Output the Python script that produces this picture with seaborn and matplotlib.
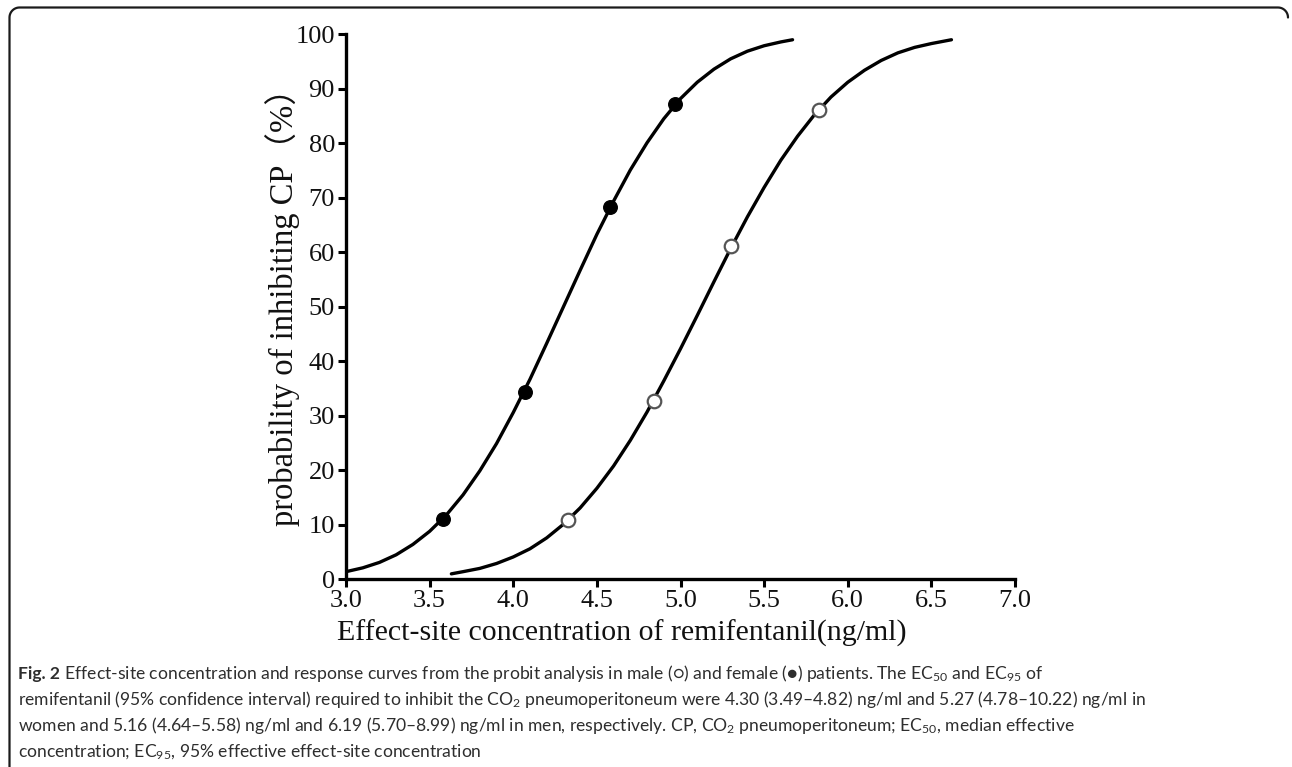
import numpy as np
import pandas as pd
import matplotlib.pyplot as plt
import seaborn as sns
from matplotlib.lines import Line2D

female_conc = [3.58, 4.07, 4.58, 4.97]
female_prob = [11.1, 34.4, 68.4, 87.2]
male_conc = [4.33, 4.84, 5.30, 5.83]
male_prob = [10.9, 32.8, 61.2, 86.2]

# fitted probit curves
female_curve_x = [3.0, 3.1, 3.2, 3.3, 3.4, 3.5, 3.6, 3.7, 3.8, 3.9, 4.0, 4.1, 4.2, 4.3,
                  4.4, 4.5, 4.6, 4.7, 4.8, 4.9, 5.0, 5.1, 5.2, 5.3, 5.4, 5.5, 5.6, 5.67]
female_curve_y = [1.4, 2.1, 3.1, 4.5, 6.4, 8.8, 11.8, 15.5, 19.9, 24.9, 30.6, 36.7, 43.3, 50.0,
                  56.7, 63.3, 69.4, 75.1, 80.1, 84.5, 88.2, 91.2, 93.6, 95.5, 96.9, 97.9, 98.6, 99.0]
male_curve_x = [3.63, 3.7, 3.8, 3.9, 4.0, 4.1, 4.2, 4.3, 4.4, 4.5, 4.6, 4.7, 4.8, 4.9, 5.0, 5.1,
                5.2, 5.3, 5.4, 5.5, 5.6, 5.7, 5.8, 5.9, 6.0, 6.1, 6.2, 6.3, 6.4, 6.5, 6.62]
male_curve_y = [1.0, 1.4, 2.0, 2.9, 4.1, 5.6, 7.6, 10.1, 13.1, 16.7, 20.8, 25.5, 30.7, 36.4, 42.3, 48.4,
                54.6, 60.7, 66.5, 71.9, 76.9, 81.3, 85.2, 88.5, 91.2, 93.4, 95.2, 96.6, 97.6, 98.3, 99.0]

x_ticks = [3.0, 3.5, 4.0, 4.5, 5.0, 5.5, 6.0, 6.5, 7.0]
y_ticks = [0, 10, 20, 30, 40, 50, 60, 70, 80, 90, 100]

caption_head = "Fig. 2"
caption_lines = [
    r" Effect-site concentration and response curves from the probit analysis in male (○) and female (●) patients. The EC$_{50}$ and EC$_{95}$ of",
    r"remifentanil (95% confidence interval) required to inhibit the CO$_{2}$ pneumoperitoneum were 4.30 (3.49–4.82) ng/ml and 5.27 (4.78–10.22) ng/ml in",
    r"women and 5.16 (4.64–5.58) ng/ml and 6.19 (5.70–8.99) ng/ml in men, respectively. CP, CO$_{2}$ pneumoperitoneum; EC$_{50}$, median effective",
    r"concentration; EC$_{95}$, 95% effective effect-site concentration",
]

sns.set_theme(style="ticks")
plt.rcParams["font.family"] = ["Liberation Serif", "Noto Sans CJK SC", "DejaVu Sans"]
plt.rcParams["mathtext.fontset"] = "custom"
plt.rcParams["mathtext.rm"] = "Lato"
plt.rcParams["mathtext.it"] = "Lato:italic"
plt.rcParams["mathtext.bf"] = "Lato:bold"

W, H = 1292, 767
fig = plt.figure(figsize=(W / 100, H / 100), dpi=100)
ax = fig.add_axes([346 / W, 1 - 579.3 / H, (1015 - 346) / W, (579.3 - 34.3) / H])

sns.lineplot(x=female_curve_x, y=female_curve_y, sort=False, estimator=None,
             color="black", lw=2.4, ax=ax)
sns.lineplot(x=male_curve_x, y=male_curve_y, sort=False, estimator=None,
             color="black", lw=2.4, ax=ax)
sns.scatterplot(x=female_conc, y=female_prob, s=95, color="black",
                edgecolor="black", linewidth=1, zorder=5, ax=ax)
sns.scatterplot(x=male_conc, y=male_prob, s=95, color="white",
                edgecolor="#555555", linewidth=1.6, zorder=5, ax=ax)

ax.set_xlim(3.0, 7.0)
ax.set_ylim(0, 100)
ax.set_xticks(x_ticks)
ax.set_xticklabels([f"{v:.1f}" for v in x_ticks])
ax.set_yticks(y_ticks)
sns.despine(ax=ax)
for side in ["left", "bottom"]:
    ax.spines[side].set_linewidth(2.4)
    ax.spines[side].set_color("black")
ax.tick_params(axis="both", direction="out", length=6, width=2.2, colors="black",
               labelsize=19, pad=2)
for lab in ax.get_xticklabels() + ax.get_yticklabels():
    lab.set_color("#111111")

ax.set_xlabel("Effect-site concentration of remifentanil(ng/ml)", fontsize=21.5, color="#111111")
ax.xaxis.set_label_coords(0.413, -0.074)
ax.set_ylabel("probability of inhibiting CP（%）", fontsize=23.5, color="#111111")
ax.yaxis.set_label_coords(-0.069, 0.515)

# caption below the chart
cap_font = dict(fontsize=12.6, color="#2e2e2e", family=["Lato", "DejaVu Sans"],
                ha="left", va="baseline")
head = fig.text(18 / W, 1 - 679.5 / H, caption_head, fontweight="bold", **cap_font)
renderer = fig.canvas.get_renderer()
head_end = head.get_window_extent(renderer).x1
for i, line in enumerate(caption_lines):
    x0 = head_end / W if i == 0 else 18 / W
    fig.text(x0, 1 - (679.5 + 26 * i) / H, line, **cap_font)

# rounded frame: left and top edges only
r = 10
left, top, right = 9.5, 7.5, 1288
t1 = np.linspace(np.pi, np.pi / 2, 12)
t2 = np.linspace(np.pi / 2, 0, 12)
px = np.concatenate([[left], left + r + r * np.cos(t1), right - r + r * np.cos(t2)])
py = np.concatenate([[H + 5], top + r - r * np.sin(t1), top + r - r * np.sin(t2)])
fig.add_artist(Line2D(px / W, 1 - py / H, transform=fig.transFigure,
                      color="#1a1a1a", lw=1.6))

fig.savefig("out.png", dpi=100)
